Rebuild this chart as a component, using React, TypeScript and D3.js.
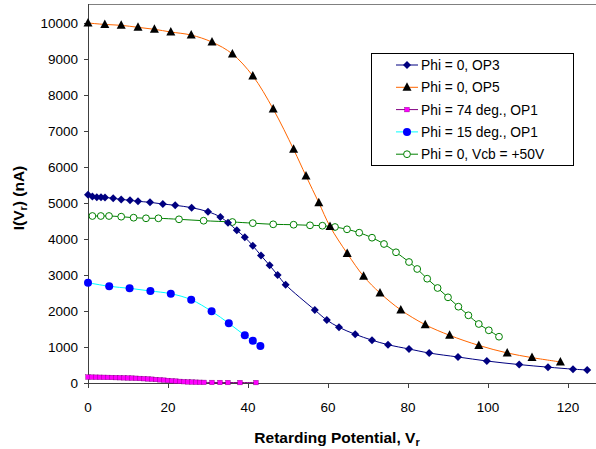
import React from "react";
import * as d3 from "d3";

type Pt = [number, number];

const xTicks = [0, 20, 40, 60, 80, 100, 120];
const yTicks = [0, 1000, 2000, 3000, 4000, 5000, 6000, 7000, 8000, 9000, 10000];

const op3: Pt[] = [
  [0, 5230], [1.1, 5180], [2.2, 5160], [3.25, 5158], [4.25, 5155], [6.3, 5130], [8.3, 5100],
  [10.5, 5075], [12.5, 5047], [15.5, 5019], [18.7, 4972], [21.8, 4936], [25.9, 4870], [30, 4758],
  [33.1, 4611], [35, 4453], [37.2, 4241], [39.2, 4047], [41.2, 3814], [43.25, 3540], [45.4, 3269],
  [47.4, 3000], [49.4, 2731], [56.7, 2028], [59.7, 1750], [62.75, 1547], [66.8, 1353], [71, 1190],
  [75, 1064], [80.25, 945], [85.3, 833], [92.5, 722], [99.7, 611], [107.8, 512], [115, 440],
  [121.25, 385], [124.8, 361],
];

const op5: Pt[] = [
  [0, 10000], [4.2, 9960], [8.3, 9935], [12.5, 9880], [16.6, 9825], [20.7, 9750], [25.8, 9665],
  [31, 9470], [36.1, 9140], [41.2, 8530], [46.3, 7610], [51.4, 6490], [54.5, 5750], [57.7, 5010],
  [60.5, 4350], [64.8, 3600], [68.9, 2965], [73, 2500], [78.2, 2030], [84.3, 1620], [90.4, 1325],
  [97.7, 1045], [104.8, 835], [111, 705], [118.1, 585],
];

const phi74: Pt[] = [
  [0, 165], [1, 163], [2, 161], [3, 159], [4, 157], [5, 155], [6, 153], [7, 150], [8, 147],
  [9, 144], [10, 140], [11, 136], [12, 131], [13, 126], [14, 120], [15, 113], [16, 105], [17, 97],
  [18, 88], [19, 79], [20, 70], [21, 61], [22, 52], [23, 44], [24, 37], [25, 31], [26, 26],
  [27, 22], [28, 19], [29, 17], [31, 15], [33, 14], [35, 13], [38, 12], [42, 12],
];

const phi15: Pt[] = [
  [0, 2786], [5.3, 2686], [10.4, 2630], [15.6, 2556], [20.7, 2481], [25.8, 2314], [30.9, 1992],
  [35.2, 1658], [39.2, 1325], [41.2, 1175], [43.1, 1028],
];

const vcb: Pt[] = [
  [1.1, 4639], [3.2, 4639], [5.25, 4639], [8.3, 4620], [11.4, 4592], [14.5, 4575], [17.6, 4575],
  [22.75, 4547], [28.9, 4508], [36.1, 4472], [41.2, 4440], [46.3, 4408], [51.4, 4397], [55.5, 4380],
  [58.6, 4369], [61.75, 4333], [64.75, 4269], [67.8, 4175], [71, 4036], [74, 3861], [77, 3631],
  [80.25, 3361], [82.3, 3167], [84.8, 2897], [87.4, 2639], [90, 2380], [92.6, 2120], [95.1, 1880],
  [97.7, 1639], [100.2, 1464], [102.75, 1286],
];

const seriesNames = [
  "Phi = 0, OP3",
  "Phi = 0, OP5",
  "Phi = 74 deg., OP1",
  "Phi = 15 deg., OP1",
  "Phi = 0, Vcb = +50V",
];

const FONT = "'Liberation Sans', Arial, sans-serif";

type MarkerKind = "diamond" | "triangle" | "square" | "circle" | "ocircle";

function Marker({ kind, x, y }: { kind: MarkerKind; x: number; y: number }) {
  if (kind === "diamond") {
    const r = 4;
    return <path d={`M${x},${y - r}L${x + r},${y}L${x},${y + r}L${x - r},${y}Z`} fill="#000080" />;
  }
  if (kind === "triangle") {
    return <path d={`M${x},${y - 5}L${x + 4.5},${y + 3.5}L${x - 4.5},${y + 3.5}Z`} fill="#000000" />;
  }
  if (kind === "square") {
    return <rect x={x - 2.3} y={y - 2.3} width={4.6} height={4.6} fill="#FF00FF" stroke="#800080" strokeWidth={0.4} />;
  }
  if (kind === "circle") {
    return <circle cx={x} cy={y} r={4} fill="#0000FF" />;
  }
  return <circle cx={x} cy={y} r={3.4} fill="#ffffff" stroke="#008000" strokeWidth={1} />;
}

export default function App() {
  const x = d3.scaleLinear().domain([0, 140]).range([88, 648]);
  const y = d3.scaleLinear().domain([0, 10500]).range([383, 5]);

  const line = d3
    .line<Pt>()
    .x((d) => x(d[0]))
    .y((d) => y(d[1]))
    .curve(d3.curveCatmullRom.alpha(0.5));

  const series: { data: Pt[]; color: string; kind: MarkerKind; width: number }[] = [
    { data: op3, color: "#000080", kind: "diamond", width: 1 },
    { data: op5, color: "#FF6600", kind: "triangle", width: 1 },
    { data: phi74, color: "#800080", kind: "square", width: 1 },
    { data: phi15, color: "#00FFFF", kind: "circle", width: 1 },
    { data: vcb, color: "#008000", kind: "ocircle", width: 1 },
  ];

  const drawOrder = [2, 3, 4, 0, 1];

  const legX = 371;
  const legY = 53;
  const legRow0 = 65;
  const legStep = 22.3;

  return (
    <svg
      width={596}
      height={449}
      style={{ position: "absolute", left: 0, top: 0, background: "#ffffff" }}
      fontFamily={FONT}
    >
      <rect x={0} y={0} width={596} height={449} fill="#ffffff" />
      {/* plot border */}
      <line x1={88} y1={4.5} x2={596} y2={4.5} stroke="#808080" strokeWidth={1} />

      {/* axes */}
      <line x1={88.5} y1={4} x2={88.5} y2={383} stroke="#404040" strokeWidth={1} />
      <line x1={88} y1={383.5} x2={596} y2={383.5} stroke="#404040" strokeWidth={1} />
      {yTicks.map((t) => (
        <g key={"y" + t}>
          <line x1={84} x2={88} y1={Math.round(y(t)) + 0.5} y2={Math.round(y(t)) + 0.5} stroke="#404040" />
          <text x={78} y={y(t)} dy="0.35em" textAnchor="end" fontSize={13.5} fill="#000">
            {t}
          </text>
        </g>
      ))}
      {xTicks.map((t) => (
        <g key={"x" + t}>
          <line x1={Math.round(x(t)) + 0.5} x2={Math.round(x(t)) + 0.5} y1={383} y2={388} stroke="#404040" />
          <text x={x(t)} y={411.5} textAnchor="middle" fontSize={13.5} fill="#000">
            {t}
          </text>
        </g>
      ))}

      {/* series */}
      {drawOrder.map((i) => {
        const s = series[i];
        return (
          <g key={"s" + i}>
            <path d={line(s.data) || ""} fill="none" stroke={s.color} strokeWidth={s.width} />
            {s.data.map((d, j) => (
              <Marker key={j} kind={s.kind} x={x(d[0])} y={y(d[1])} />
            ))}
          </g>
        );
      })}

      {/* axis titles */}
      <text x={337} y={443} textAnchor="middle" fontSize={15.5} fontWeight="bold" fill="#000">
        Retarding Potential, V<tspan fontSize={11} dy={3}>r</tspan>
      </text>
      <text
        transform={`translate(24,198) rotate(-90)`}
        textAnchor="middle"
        fontSize={15.5}
        fontWeight="bold"
        fill="#000"
      >
        I(V<tspan fontSize={11} dy={3}>r</tspan>
        <tspan dy={-3}>) (nA)</tspan>
      </text>

      {/* legend */}
      <rect x={legX + 0.5} y={legY + 0.5} width={202} height={112} fill="#ffffff" stroke="#000000" strokeWidth={1} />
      {series.map((s, i) => {
        const cy = legRow0 + i * legStep;
        return (
          <g key={"l" + i}>
            <line x1={396} x2={418} y1={cy} y2={cy} stroke={s.color} strokeWidth={s.width} />
            <Marker kind={s.kind} x={407} y={cy} />
            <text x={421} y={cy} dy="0.36em" fontSize={13.8} fill="#000">
              {seriesNames[i]}
            </text>
          </g>
        );
      })}
    </svg>
  );
}
